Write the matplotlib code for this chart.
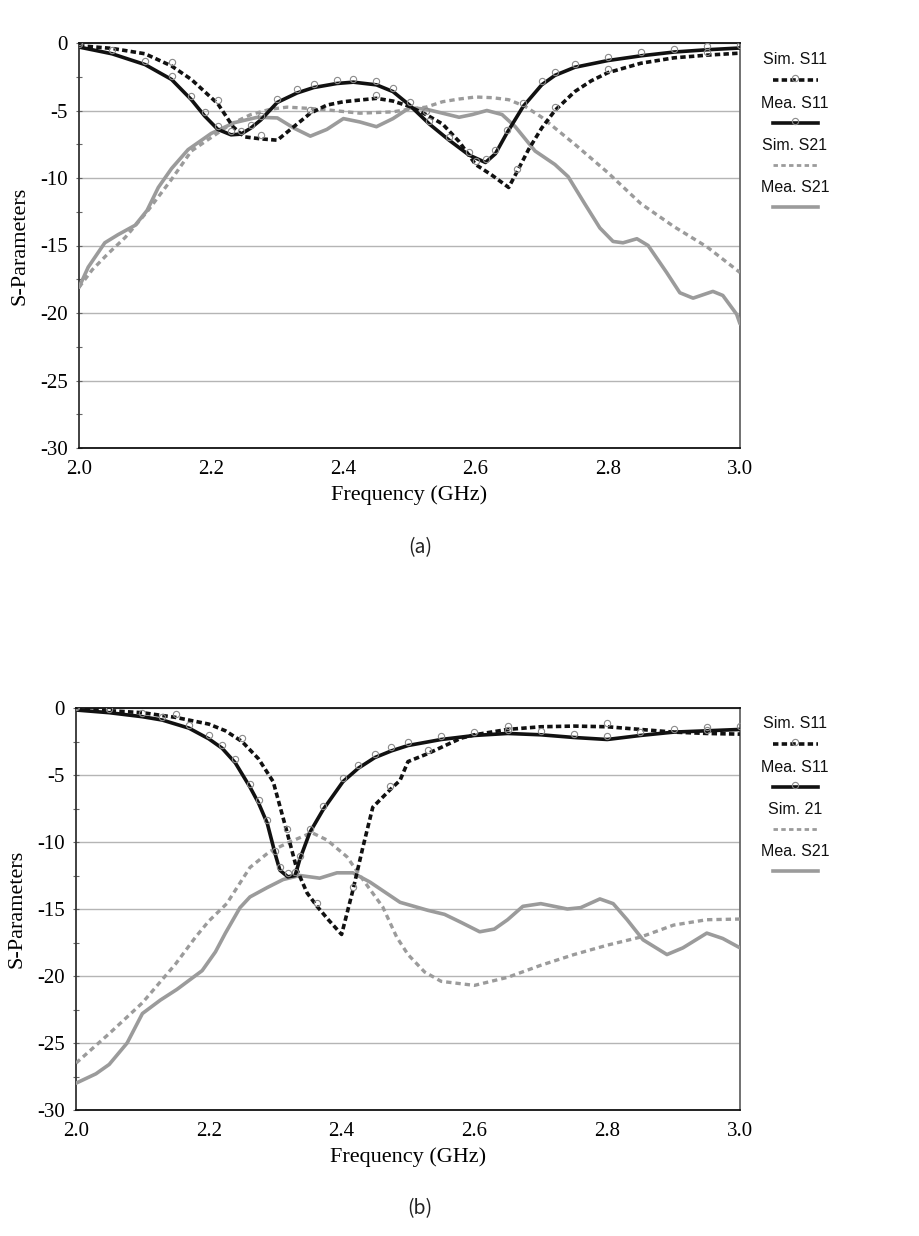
import matplotlib
matplotlib.use("Agg")
import matplotlib.pyplot as plt
from matplotlib.lines import Line2D
from matplotlib.transforms import ScaledTranslation

# ---------------- Data: panel (a) ----------------
a_mea_s11_f = [2.00, 2.05, 2.10, 2.14, 2.17, 2.19, 2.21, 2.23, 2.245, 2.26, 2.275, 2.30, 2.33, 2.355,
               2.39, 2.415, 2.45, 2.475, 2.50, 2.53, 2.56, 2.59, 2.615, 2.63, 2.647, 2.672, 2.70, 2.72,
               2.75, 2.80, 2.85, 2.90, 2.95, 3.00]
a_mea_s11 = [-0.3, -0.8, -1.6, -2.7, -4.2, -5.4, -6.4, -6.8, -6.75, -6.3, -5.7, -4.4, -3.7, -3.3,
             -3.0, -2.9, -3.1, -3.6, -4.6, -6.0, -7.2, -8.3, -8.85, -8.2, -6.7, -4.7, -3.1, -2.4,
             -1.8, -1.3, -0.95, -0.67, -0.5, -0.37]

a_sim_s11_f = [2.00, 2.05, 2.10, 2.14, 2.17, 2.19, 2.21, 2.233, 2.25, 2.275, 2.30, 2.325, 2.35, 2.375,
               2.40, 2.45, 2.475, 2.50, 2.525, 2.55, 2.575, 2.60, 2.625, 2.65, 2.662, 2.68, 2.70, 2.72,
               2.75, 2.775, 2.80, 2.85, 2.90, 2.95, 3.00]
a_sim_s11 = [-0.2, -0.4, -0.8, -1.7, -2.7, -3.6, -4.5, -6.2, -6.95, -7.1, -7.2, -6.2, -5.2, -4.6,
             -4.35, -4.1, -4.3, -4.7, -5.3, -6.0, -7.3, -9.0, -9.8, -10.7, -9.6, -7.9, -6.3, -5.0,
             -3.6, -2.8, -2.2, -1.5, -1.1, -0.9, -0.75]

a_sim_s21_f = [2.00, 2.02, 2.044, 2.07, 2.103, 2.14, 2.17, 2.20, 2.23, 2.26, 2.29, 2.315, 2.35, 2.375,
               2.425, 2.475, 2.50, 2.525, 2.55, 2.575, 2.60, 2.625, 2.65, 2.675, 2.70, 2.75, 2.80,
               2.85, 2.90, 2.95, 3.00]
a_sim_s21 = [-18.1, -16.8, -15.6, -14.4, -12.5, -10.1, -8.0, -7.0, -6.0, -5.3, -4.9, -4.75, -4.85, -4.95,
             -5.2, -5.1, -4.9, -4.75, -4.35, -4.15, -4.0, -4.05, -4.2, -4.7, -5.5, -7.5, -9.6,
             -11.9, -13.6, -15.1, -17.0]

a_mea_s21_f = [2.00, 2.014, 2.039, 2.059, 2.085, 2.103, 2.12, 2.14, 2.165, 2.20, 2.235, 2.27, 2.30, 2.325,
               2.35, 2.375, 2.40, 2.425, 2.45, 2.475, 2.50, 2.525, 2.55, 2.575, 2.595, 2.617, 2.64,
               2.66, 2.69, 2.72, 2.74, 2.765, 2.788, 2.808, 2.823, 2.844, 2.861, 2.889, 2.909, 2.929,
               2.959, 2.974, 2.995, 3.00]
a_mea_s21 = [-18.1, -16.6, -14.8, -14.2, -13.5, -12.4, -10.7, -9.3, -7.9, -6.7, -5.9, -5.5, -5.55, -6.3,
             -6.9, -6.4, -5.6, -5.85, -6.2, -5.6, -4.8, -4.9, -5.2, -5.5, -5.3, -5.0, -5.3,
             -6.2, -8.0, -9.0, -9.9, -11.9, -13.7, -14.7, -14.8, -14.5, -15.0, -17.0, -18.5, -18.9,
             -18.4, -18.7, -20.1, -20.8]

# ---------------- Data: panel (b) ----------------
b_mea_s11_f = [2.00, 2.05, 2.10, 2.13, 2.17, 2.20, 2.22, 2.24, 2.262, 2.275, 2.288, 2.30, 2.307, 2.319,
               2.33, 2.337, 2.352, 2.372, 2.402, 2.425, 2.45, 2.475, 2.50, 2.55, 2.60, 2.65,
               2.70, 2.75, 2.80, 2.85, 2.90, 2.95, 3.00]
b_mea_s11 = [-0.15, -0.35, -0.65, -0.9, -1.5, -2.3, -3.0, -4.1, -5.9, -7.1, -8.6, -10.9, -12.1, -12.6,
             -12.5, -11.3, -9.3, -7.6, -5.5, -4.5, -3.7, -3.2, -2.8, -2.35, -2.05, -1.9,
             -2.0, -2.2, -2.35, -2.05, -1.8, -1.7, -1.6]

b_sim_s11_f = [2.00, 2.05, 2.10, 2.15, 2.20, 2.225, 2.25, 2.275, 2.297, 2.318, 2.333, 2.348, 2.363,
               2.38, 2.40, 2.417, 2.432, 2.447, 2.473, 2.488, 2.50, 2.53, 2.58, 2.60, 2.65,
               2.70, 2.75, 2.80, 2.85, 2.90, 2.95, 3.00]
b_sim_s11 = [-0.1, -0.2, -0.35, -0.7, -1.2, -1.7, -2.5, -3.8, -5.5, -9.3, -12.1, -13.8, -14.8,
             -15.8, -16.9, -13.6, -10.4, -7.4, -6.1, -5.4, -4.0, -3.4, -2.25, -2.0, -1.6,
             -1.4, -1.35, -1.4, -1.6, -1.8, -1.9, -1.95]

b_sim_s21_f = [2.00, 2.05, 2.10, 2.15, 2.18, 2.20, 2.227, 2.262, 2.292, 2.322, 2.355, 2.378, 2.408,
               2.432, 2.462, 2.483, 2.50, 2.525, 2.55, 2.60, 2.65, 2.70, 2.75, 2.80, 2.85, 2.90,
               2.95, 3.00]
b_sim_s21 = [-26.5, -24.3, -22.0, -19.1, -17.1, -15.9, -14.6, -11.9, -10.7, -10.0, -9.3, -9.85, -11.1,
             -12.8, -14.85, -17.1, -18.4, -19.7, -20.4, -20.7, -20.1, -19.2, -18.4, -17.7, -17.1, -16.2,
             -15.8, -15.75]

b_mea_s21_f = [2.00, 2.03, 2.05, 2.077, 2.10, 2.127, 2.152, 2.19, 2.21, 2.225, 2.247, 2.262, 2.288,
               2.312, 2.337, 2.367, 2.393, 2.417, 2.443, 2.488, 2.53, 2.555, 2.58, 2.608,
               2.63, 2.65, 2.673, 2.70, 2.74, 2.76, 2.789, 2.809, 2.83, 2.854, 2.89, 2.914, 2.95,
               2.974, 3.00]
b_mea_s21 = [-28.0, -27.3, -26.6, -25.0, -22.8, -21.8, -21.0, -19.6, -18.2, -16.8, -14.9, -14.1, -13.4,
             -12.8, -12.5, -12.7, -12.3, -12.3, -13.0, -14.5, -15.1, -15.4, -16.0, -16.7,
             -16.5, -15.8, -14.8, -14.6, -15.0, -14.9, -14.25, -14.6, -15.8, -17.3, -18.4, -17.9, -16.8,
             -17.2, -17.9]

x_ticks = [2.0, 2.2, 2.4, 2.6, 2.8, 3.0]
x_tick_labels = ["2.0", "2.2", "2.4", "2.6", "2.8", "3.0"]
y_ticks = [0, -5, -10, -15, -20, -25, -30]
y_tick_labels = ["0", "-5", "-10", "-15", "-20", "-25", "-30"]

legend_a = ["Sim. S11", "Mea. S11", "Sim. S21", "Mea. S21"]
legend_b = ["Sim. S11", "Mea. S11", "Sim. 21", "Mea. S21"]

# ---------------- Style ----------------
BLACK = "#111111"
GRAY = "#9b9b9b"
MK = "#8a8a8a"
SERIF = "Liberation Serif"

fig = plt.figure(figsize=(9.2, 12.36), dpi=100)

def setup_axes(rect):
    ax = fig.add_axes(rect)
    ax.set_xlim(2.0, 3.0)
    ax.set_ylim(-30, 0)
    ax.set_xticks(x_ticks)
    ax.set_xticklabels(x_tick_labels, fontfamily=SERIF, fontsize=15)
    ax.set_yticks(y_ticks)
    ax.set_yticklabels(y_tick_labels, fontfamily=SERIF, fontsize=15)
    ax.set_yticks([-2.5, -7.5, -12.5, -17.5, -22.5, -27.5], minor=True)
    ax.tick_params(axis="y", which="both", direction="inout", length=4, width=0.8,
                   color="#666666", pad=6)
    ax.tick_params(axis="x", which="both", length=0, pad=9)
    ax.grid(axis="y", color="#b5b5b5", linewidth=1.0)
    ax.set_axisbelow(True)
    for s in ["top", "bottom"]:
        ax.spines[s].set_color("#111111")
        ax.spines[s].set_linewidth(1.3)
    ax.spines["left"].set_color("#333333")
    ax.spines["left"].set_linewidth(1.3)
    ax.spines["right"].set_color("#666666")
    ax.spines["right"].set_linewidth(1.3)
    ax.set_xlabel("Frequency (GHz)", fontfamily=SERIF, fontsize=16, labelpad=4)
    ax.set_ylabel("S-Parameters", fontfamily=SERIF, fontsize=16, labelpad=8)
    return ax

def draw_panel(ax, sim_s11_f, sim_s11, mea_s11_f, mea_s11, sim_s21_f, sim_s21, mea_s21_f, mea_s21):
    up = ax.transData + ScaledTranslation(0, 2.5 / 72, fig.dpi_scale_trans)
    kw = dict(solid_joinstyle="round", solid_capstyle="round", dash_joinstyle="round")
    ax.plot(sim_s21_f, sim_s21, color=GRAY, lw=2.4, dashes=(1.6, 1.2), zorder=3, **kw)
    ax.plot(mea_s21_f, mea_s21, color=GRAY, lw=2.6, zorder=3, **kw)
    ax.plot(mea_s11_f, mea_s11, color=BLACK, lw=2.6, zorder=4, **kw)
    ax.plot(sim_s11_f, sim_s11, color=BLACK, lw=2.6, dashes=(1.5, 0.9), zorder=5, **kw)
    ax.plot(mea_s11_f, mea_s11, ls="none", marker="o", ms=4.5, mfc="none", mec=MK, mew=0.8,
            transform=up, zorder=6)
    ax.plot(sim_s11_f, sim_s11, ls="none", marker="o", ms=4.5, mfc="none", mec=MK, mew=0.8,
            markevery=3, transform=up, zorder=6)

def draw_legend(labels, ys_px):
    styles = [
        dict(color=BLACK, lw=2.6, dashes=(1.5, 0.9), marker=True),
        dict(color=BLACK, lw=2.6, dashes=None, marker=True),
        dict(color=GRAY, lw=2.0, dashes=(1.6, 1.2), marker=False),
        dict(color=GRAY, lw=2.6, dashes=None, marker=False),
    ]
    W, H = 920.0, 1236.0
    for lab, y, st in zip(labels, ys_px, styles):
        fig.text(795 / W, 1 - y / H, lab, ha="center", va="center",
                 fontfamily="Liberation Sans", fontsize=11.5, color="#111111")
        yl = 1 - (y + 20) / H
        ln = Line2D([773 / W, 818 / W], [yl, yl], transform=fig.transFigure,
                    color=st["color"], lw=st["lw"])
        if st["dashes"] is not None:
            ln.set_dashes(st["dashes"])
        fig.add_artist(ln)
        if st["marker"]:
            mk = Line2D([795 / W], [yl + 2.5 / H], transform=fig.transFigure, ls="none",
                        marker="o", ms=4.5, mfc="none", mec=MK, mew=0.8)
            fig.add_artist(mk)

W, H = 920.0, 1236.0
ax_a = setup_axes([79 / W, 1 - 448 / H, (740 - 79) / W, (448 - 43) / H])
draw_panel(ax_a, a_sim_s11_f, a_sim_s11, a_mea_s11_f, a_mea_s11,
           a_sim_s21_f, a_sim_s21, a_mea_s21_f, a_mea_s21)
ax_b = setup_axes([76 / W, 1 - 1110 / H, (740 - 76) / W, (1110 - 708) / H])
draw_panel(ax_b, b_sim_s11_f, b_sim_s11, b_mea_s11_f, b_mea_s11,
           b_sim_s21_f, b_sim_s21, b_mea_s21_f, b_mea_s21)

draw_legend(legend_a, [60, 103, 145, 187])
draw_legend(legend_b, [724, 767, 809, 851])

fig.text(420 / W, 1 - 548 / H, "(a)", ha="center", va="center",
         fontfamily=["Noto Sans CJK KR", "DejaVu Sans"], fontsize=14, color="#222222",
         fontweight="light")
fig.text(420 / W, 1 - 1209 / H, "(b)", ha="center", va="center",
         fontfamily=["Noto Sans CJK KR", "DejaVu Sans"], fontsize=14, color="#222222",
         fontweight="light")

fig.savefig("out.png", dpi=100)
